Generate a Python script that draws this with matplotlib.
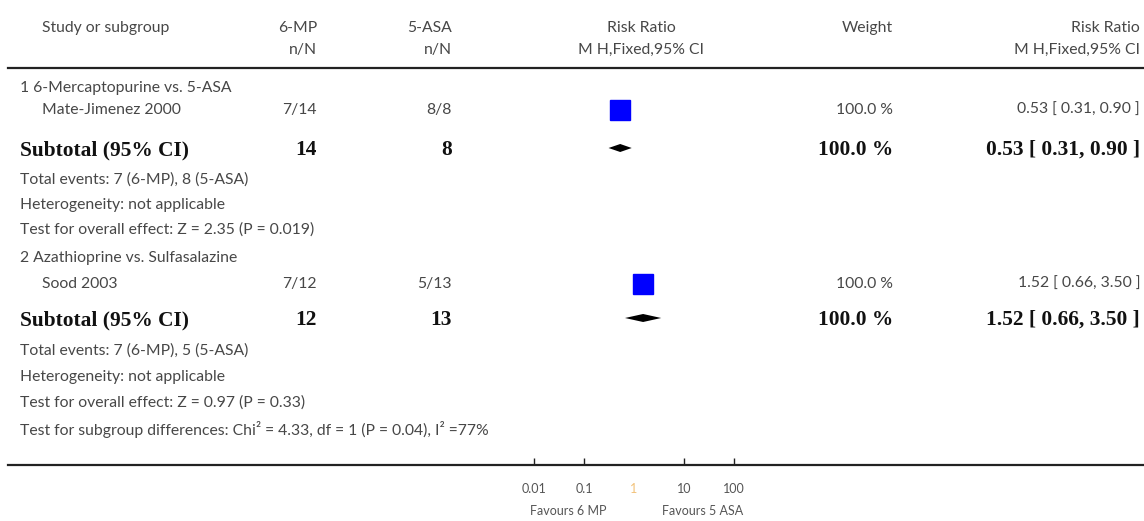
import numpy as np
import matplotlib.pyplot as plt

# data
group_titles = ['1 6-Mercaptopurine vs. 5-ASA', '2 Azathioprine vs. Sulfasalazine']
studies = ['Mate-Jimenez 2000', 'Sood 2003']
ev_mp = [7, 7]
n_mp = [14, 12]
ev_asa = [8, 5]
n_asa = [8, 13]
rr = [0.53, 1.52]
rr_lo = [0.31, 0.66]
rr_hi = [0.90, 3.50]
weights = [100.0, 100.0]
overall_z = ['Z = 2.35 (P = 0.019)', 'Z = 0.97 (P = 0.33)']
subgroup_test = 'Test for subgroup differences: Chi² = 4.33, df = 1 (P = 0.04), I² =77%'
ticks = [0.01, 0.1, 1, 10, 100]
tick_labels = ['0.01', '0.1', '1', '10', '100']

W, H = 1144, 521
fig = plt.figure(figsize=(W / 100, H / 100), dpi=100)

# text layer in pixel coords
tx = fig.add_axes([0, 0, 1, 1])
tx.set_xlim(0, W)
tx.set_ylim(H, 0)
tx.axis('off')

# forest layer: 50 px per decade, RR=1 at x=634
px1, dec = 634, 50.0
fx = fig.add_axes([0, 0, 1, 1], facecolor='none')
fx.set_xscale('log')
fx.set_xlim(10 ** (-(px1) / dec), 10 ** ((W - px1) / dec))
fx.set_ylim(H, 0)

sans = dict(family='Lato', fontsize=11.3, color='#474747', va='center')
bold = dict(family='Liberation Serif', fontsize=15.4, fontweight='bold', color='#111111', va='center')

# header
tx.text(42, 28, 'Study or subgroup', ha='left', **sans)
tx.text(317, 28, '6-MP', ha='right', **sans)
tx.text(317, 50, 'n/N', ha='right', **sans)
tx.text(452, 28, '5-ASA', ha='right', **sans)
tx.text(452, 50, 'n/N', ha='right', **sans)
tx.text(641, 28, 'Risk Ratio', ha='center', **sans)
tx.text(641, 50, 'M H,Fixed,95% CI', ha='center', **sans)
tx.text(893, 28, 'Weight', ha='right', **sans)
tx.text(1140, 28, 'Risk Ratio', ha='right', **sans)
tx.text(1140, 50, 'M H,Fixed,95% CI', ha='right', **sans)
tx.plot([8, W], [68, 68], color='#222222', lw=1.6)

row_y = [[88, 110, 150, 180, 205, 230], [258, 284, 320, 351, 377, 403]]

for i in range(len(studies)):
    yt, ys, ysub, ytot, yhet, ytest = row_y[i]
    tx.text(20, yt, group_titles[i], ha='left', **sans)
    tx.text(42, ys, studies[i], ha='left', **sans)
    tx.text(317, ys, f'{ev_mp[i]}/{n_mp[i]}', ha='right', **sans)
    tx.text(452, ys, f'{ev_asa[i]}/{n_asa[i]}', ha='right', **sans)
    tx.text(893, ys, f'{weights[i]:.1f} %', ha='right', **sans)
    tx.text(1140, ys, f'{rr[i]:.2f} [ {rr_lo[i]:.2f}, {rr_hi[i]:.2f} ]', ha='right', **sans)

    # study square (weight 100 %)
    fx.plot([rr[i]], [ys], marker='s', markersize=14.5, color='#0000ff', mec='#0000ff')

    # subtotal row
    tx.text(20, ysub, 'Subtotal (95% CI)', ha='left', **bold)
    tx.text(317, ysub, str(n_mp[i]), ha='right', **bold)
    tx.text(452, ysub, str(n_asa[i]), ha='right', **bold)
    tx.text(893, ysub, f'{weights[i]:.1f} %', ha='right', **bold)
    tx.text(1140, ysub, f'{rr[i]:.2f} [ {rr_lo[i]:.2f}, {rr_hi[i]:.2f} ]', ha='right', **bold)
    fx.fill([rr_lo[i], rr[i], rr_hi[i], rr[i]], [ysub - 2, ysub - 6, ysub - 2, ysub + 2],
            color='black', lw=0)

    tx.text(20, ytot, f'Total events: {ev_mp[i]} (6-MP), {ev_asa[i]} (5-ASA)', ha='left', **sans)
    tx.text(20, yhet, 'Heterogeneity: not applicable', ha='left', **sans)
    tx.text(20, ytest, 'Test for overall effect: ' + overall_z[i], ha='left', **sans)

tx.text(20, 429, subgroup_test, ha='left', **sans)

# bottom axis
for s in ['top', 'left', 'right']:
    fx.spines[s].set_visible(False)
fx.spines['bottom'].set_position(('data', 465))
fx.spines['bottom'].set_linewidth(1.6)
fx.spines['bottom'].set_color('#222222')
fx.spines['bottom'].set_bounds(10 ** ((8 - px1) / dec), fx.get_xlim()[1])
fx.set_yticks([])
fx.set_xticks(ticks)
fx.set_xticklabels(tick_labels)
fx.minorticks_off()
fx.tick_params(axis='x', direction='in', length=5, width=1, pad=13,
               labelsize=9, labelcolor='#555555', color='#222222')
for lab, t in zip(fx.get_xticklabels(), fx.xaxis.get_major_ticks()):
    if lab.get_text() == '1':
        lab.set_color('#f2c27a')
        t.tick1line.set_visible(False)
for lab in fx.get_xticklabels():
    lab.set_family('Lato')

tx.text(568, 511, 'Favours 6 MP', ha='center', family='Lato', fontsize=9, color='#555555', va='center')
tx.text(703, 511, 'Favours 5 ASA', ha='center', family='Lato', fontsize=9, color='#555555', va='center')

plt.savefig('out.png', dpi=100)
